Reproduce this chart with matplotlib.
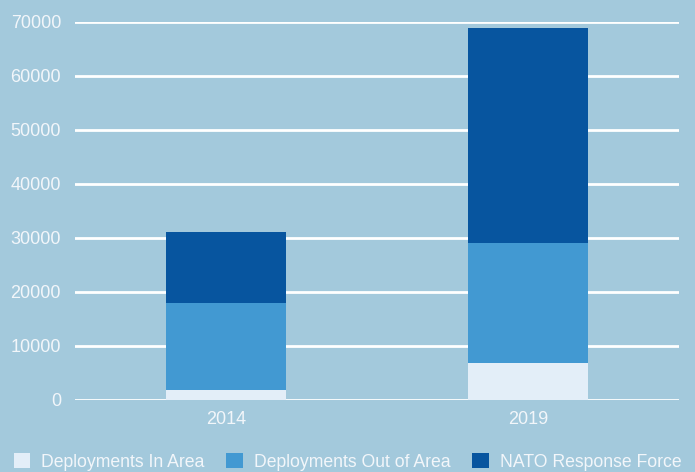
import matplotlib
matplotlib.use("Agg")
import matplotlib.pyplot as plt
from matplotlib.patches import Patch
import numpy as np

years = ["2014", "2019"]
in_area = [1900, 6900]
out_of_area = [16100, 22200]
nrf = [13200, 39800]
series_names = ["Deployments In Area", "Deployments Out of Area", "NATO Response Force"]
yticks = [0, 10000, 20000, 30000, 40000, 50000, 60000, 70000]

bg = "#a3c9dc"
colors = ["#e3eef8", "#4299d2", "#07559f"]
txt = "#f2f6fa"

plt.rcParams['font.family'] = ['Liberation Sans', 'DejaVu Sans']

fig = plt.figure(figsize=(6.95, 4.72), dpi=100, facecolor=bg)
ax = fig.add_axes([75/695, 1-400/472, (679-75)/695, (400-22)/472])
ax.set_facecolor(bg)

x = np.arange(len(years))
w = 0.4
b1 = np.array(in_area)
b2 = b1 + np.array(out_of_area)
ax.bar(x, in_area, w, color=colors[0], zorder=3)
ax.bar(x, out_of_area, w, bottom=b1, color=colors[1], zorder=3)
ax.bar(x, nrf, w, bottom=b2, color=colors[2], zorder=3)

ax.set_xlim(-0.5, 1.5)
ax.set_ylim(0, 70000)
ax.set_yticks(yticks)
ax.set_yticklabels([str(t) for t in yticks])
ax.set_xticks(x)
ax.set_xticklabels(years)
ax.tick_params(length=0, colors=txt, labelsize=13)
ax.tick_params(axis='y', pad=10)
ax.tick_params(axis='x', pad=8)
ax.grid(axis='y', color='white', linewidth=2, zorder=1)
for s in ax.spines.values():
    s.set_visible(False)

handles = [Patch(facecolor=c, edgecolor='none') for c in colors]
fig.legend(handles, series_names, loc='center', bbox_to_anchor=(0.5, 1-462/472),
           ncol=3, frameon=False, fontsize=12.7, labelcolor=txt,
           handlelength=0.95, handleheight=0.95, handletextpad=0.6, columnspacing=1.25)

fig.savefig("out.png", dpi=100, facecolor=bg)
